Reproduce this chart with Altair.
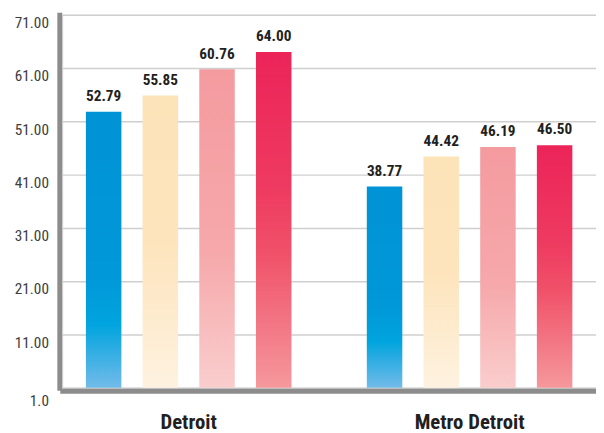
import altair as alt
import pandas as pd

groups = ["Detroit", "Metro Detroit"]
series = ["s1", "s2", "s3", "s4"]
detroit_values = [52.79, 55.85, 60.76, 64.00]
metro_values = [38.77, 44.42, 46.19, 46.50]
y_ticks = [1, 11, 21, 31, 41, 51, 61, 71]

rows = []
for g, vals in zip(groups, [detroit_values, metro_values]):
    for s, v in zip(series, vals):
        rows.append({"group": g, "series": s, "value": v, "base": 1})
df = pd.DataFrame(rows)

gradients = {
    "s1": [("#0093D6", 0), ("#0098D9", 0.6), ("#00A4DE", 0.77), ("#72BBE9", 1)],
    "s2": [("#FDE3B8", 0), ("#FDE4BC", 0.5), ("#FEF2E0", 1)],
    "s3": [("#F49BA0", 0), ("#F6A8AA", 0.57), ("#FACDCD", 1)],
    "s4": [("#EC2459", 0), ("#EE3A60", 0.4), ("#F05169", 0.6), ("#F5989C", 1)],
}

FONT = "Roboto Condensed, Liberation Sans Narrow, Roboto, sans-serif"

x_enc = alt.X(
    "group:N",
    sort=groups,
    title=None,
    scale=alt.Scale(paddingInner=0.1, paddingOuter=0.0),
    axis=alt.Axis(
        labelAngle=0,
        labelFont=FONT,
        labelFontSize=21,
        labelFontWeight="bold",
        labelColor="#231F20",
        labelBaseline="alphabetic",
        labelPadding=38,
        ticks=False,
        domainColor="#8c8c8c",
        domainWidth=5,
        domainCap="square",
        offset=3,
        grid=False,
    ),
)
xoff_enc = alt.XOffset(
    "series:N", sort=series,
    scale=alt.Scale(paddingInner=0.374, paddingOuter=0.417),
)
y_enc = alt.Y(
    "value:Q",
    title=None,
    scale=alt.Scale(domain=[1, 71], zero=False, nice=False),
    axis=alt.Axis(
        values=y_ticks,
        labelExpr="datum.value == 1 ? '1.0' : format(datum.value, '.2f')",
        labelFont=FONT,
        labelFontSize=15.5,
        labelColor="#3d3d3d",
        labelBaseline="top",
        labelOffset={"condition": {"test": "datum.value === 1", "value": 6}, "value": 1},
        labelPadding=11,
        ticks=False,
        domainColor="#8c8c8c",
        domainWidth=5,
        domainCap="square",
        offset=3,
        grid=True,
        gridColor="#cfcfcf",
        gridWidth=1.5,
    ),
)

layers = []
for s in series:
    stops = [alt.GradientStop(color=c, offset=o) for c, o in gradients[s]]
    grad = alt.LinearGradient(gradient="linear", stops=stops, x1=0, x2=0, y1=0, y2=1)
    layers.append(
        alt.Chart(df)
        .transform_filter(alt.datum.series == s)
        .mark_bar(color=grad)
        .encode(x=x_enc, xOffset=xoff_enc, y=y_enc, y2="base:Q")
    )

text = (
    alt.Chart(df)
    .mark_text(
        font=FONT, fontSize=15.5, fontWeight="bold", color="#231F20",
        baseline="alphabetic", dy=-11,
    )
    .encode(
        x=x_enc, xOffset=xoff_enc, y=y_enc,
        text=alt.Text("value:Q", format=".2f"),
    )
)

chart = (
    alt.layer(*layers, text)
    .properties(
        width=541,
        height=378,
        autosize=alt.AutoSizeParams(type="none"),
        padding={"left": 55, "top": 4, "right": 0, "bottom": 43},
    )
    .configure_view(stroke=None)
    .configure(background="white")
)

chart.save("out.html", embed_options={"renderer": "svg", "actions": False})
